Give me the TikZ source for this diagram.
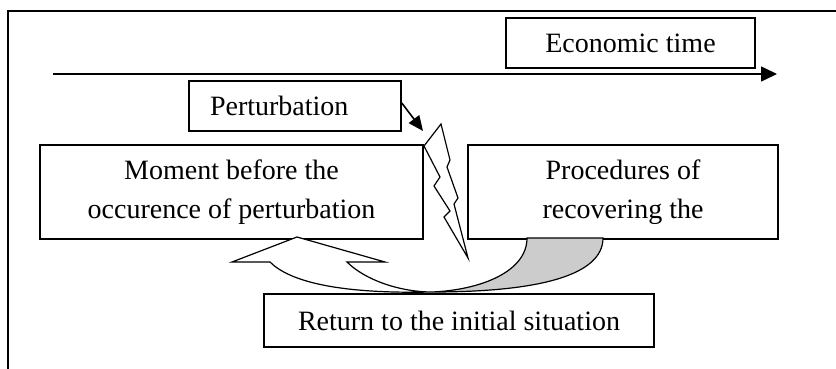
\documentclass[tikz,border=0pt]{standalone}
\usepackage{fontspec}
\setmainfont{Liberation Serif}
\usetikzlibrary{arrows.meta,
    positioning}

\begin{document}
\begin{tikzpicture}[x=1pt, y=-1pt,
                  font = \fontsize{28}{39}\selectfont,
                  box/.style = {draw, line width=1.6pt, inner sep=0pt},
                  arr/.style = {-{Triangle[length=16pt, width=15pt]}, line width=1.6pt},
                  bolt/.style = {draw, fill=white, line width=1.2pt, line join=miter},
                  turn/.style = {draw, line width=1.2pt, line join=miter}
                  ]
\useasboundingbox (0,0) rectangle (836,369);
\draw[line width=1.4pt] (8,369) -- (8,11) -- (836,11);
\coordinate (t0) at (53,74);
\coordinate (t1) at (777,74);
\draw[arr] (t0) -- (t1);
\node (econ) [box, minimum width=249pt, minimum height=50pt] at (630.5,43) {Economic time};
\node (pert) [box, minimum height=50pt, text width=170pt, inner xsep=21pt, align=left] at (295,106) {Perturbation};
\node (moment) [box, minimum width=383pt, minimum height=94pt, align=center] at (231.5,192) {Moment before the\\occurence of perturbation};
\node (proc) [box, minimum width=310pt, minimum height=94pt, align=center] at (623,192) {Procedures of\\recovering the};
\node (ret) [box, minimum width=390pt, minimum height=53pt] at (459,320.5) {Return to the initial situation};
\coordinate (hit) at (423,131);
\draw[arr, -{Triangle[length=15pt, width=13pt]}] ([yshift=3pt]pert.east) -- (hit);
\draw[bolt] (424,146) -- (441,124) -- (450,160) -- (447,167) -- (458,198) -- (454,204)
    -- (468,258) -- (444,217) -- (450,211) -- (434,186) -- (440,177) -- cycle;
\draw[turn, fill=black!20] (432,292) .. controls (540,292) and (603,275) .. (603,238)
    -- (527,238) .. controls (527,272) and (480,290) .. (432,292) -- cycle;
\draw[turn, fill=white] (297,237) -- (385,262) -- (347,262)
    .. controls (365,280) and (400,292) .. (432,292)
    .. controls (340,294) and (290,282) .. (270,262) -- (232,262) -- cycle;
\end{tikzpicture}
\end{document}
